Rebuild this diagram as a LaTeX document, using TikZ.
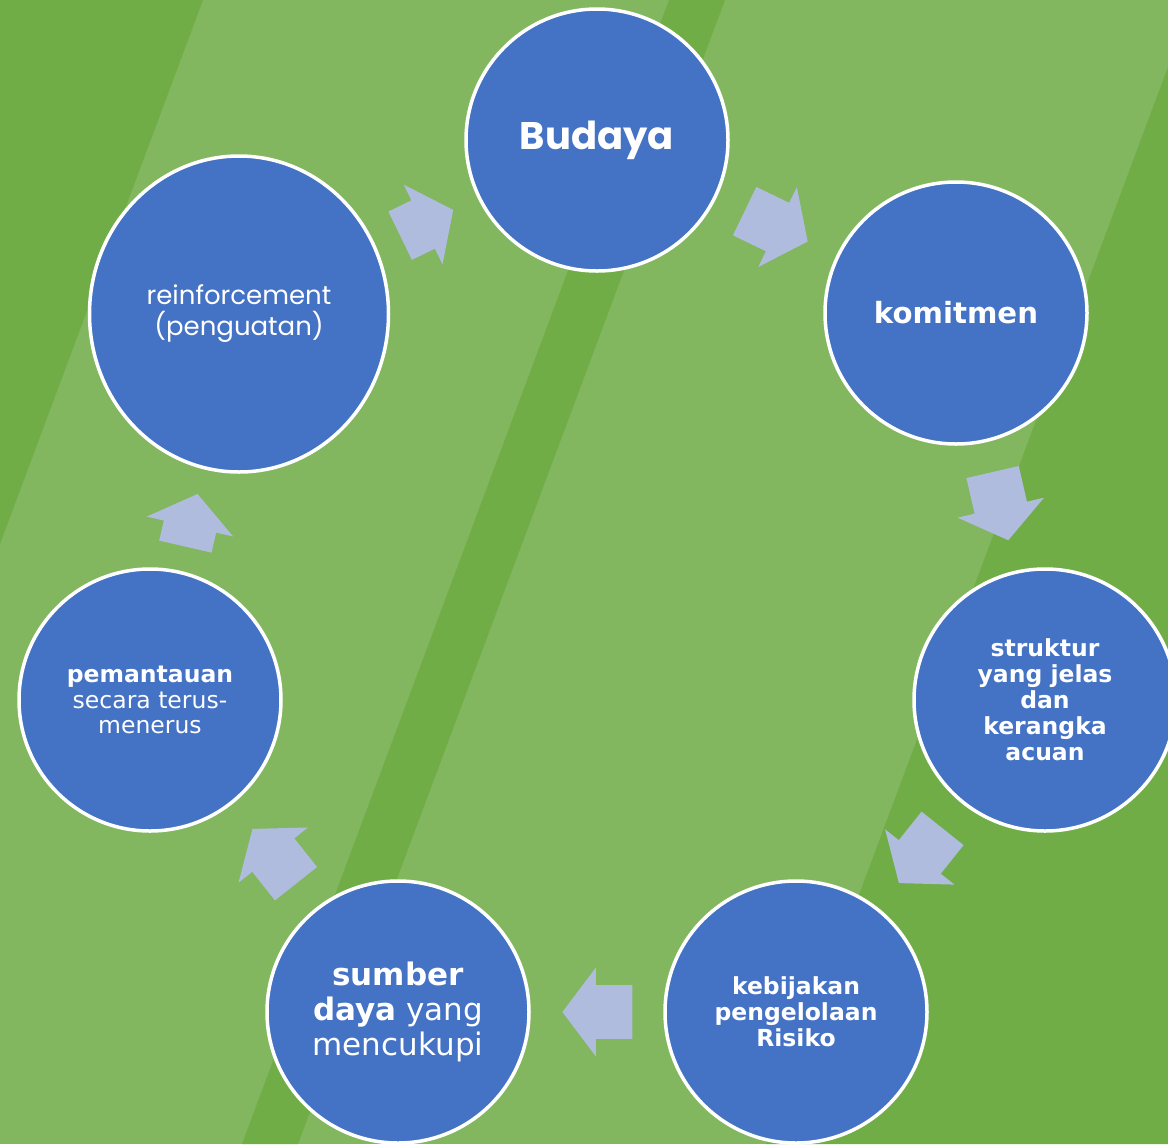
\documentclass[tikz,border=0pt]{standalone}
\usepackage{fontspec}
\setmainfont{DejaVu Sans}
\newfontfamily\gothic{Poppins}
\usetikzlibrary{shapes.geometric,shapes.arrows}

\definecolor{grasslight}{RGB}{130,182,95}
\definecolor{grassdark}{RGB}{112,173,71}
\definecolor{blobblue}{RGB}{68,114,196}
\definecolor{arrowlilac}{RGB}{175,188,222}

\tikzset{every picture/.style={line width=0.75pt}}
\tikzset{
	blob/.style={circle, draw=white, line width=3.5pt, fill=blobblue, text=white, minimum size=262, inner sep=0pt, align=center},
	cyclearrow/.style={single arrow, fill=arrowlilac, draw=none, inner xsep=0pt, inner ysep=26.5pt, minimum width=88, single arrow head extend=17.5, single arrow tip angle=106, minimum height=#1, sloped, allow upside down, xshift=-10.5pt},
	cyclearrow/.default=70
}

\begin{document}
\begin{tikzpicture}[x=1pt,y=-1pt]
			\useasboundingbox (0,0) rectangle (1168,1144);
			
			%Shape: Background
			\fill [grasslight] (0,0) rectangle (1168,1144);
			%Shape: Stripes
			\fill [grassdark] (0,0) -- (203,0) -- (0,544) -- cycle ;
			\fill [grassdark] (669,0) -- (725,0) -- (298,1144) -- (242,1144) -- cycle ;
			\fill [grassdark] (1168,67) -- (1168,1144) -- (766,1144) -- cycle ;
			
			%Shape: Circle
			\draw (597,140) node [blob, font=\gothic\bfseries\fontsize{38.5}{42}\selectfont] (budaya) {Budaya};
			%Shape: Circle
			\draw (956,313) node [blob, font=\bfseries\fontsize{29.2}{31}\selectfont] (komitmen) {komitmen};
			%Shape: Circle
			\draw (1045,700) node [blob, font=\bfseries\fontsize{23.5}{26}\selectfont] (struktur) {struktur\\yang jelas\\dan\\kerangka\\acuan};
			%Shape: Circle
			\draw (796,1012) node [blob, font=\bfseries\fontsize{23.5}{26}\selectfont] (kebijakan) {kebijakan\\pengelolaan\\Risiko};
			%Shape: Circle
			\draw (398,1012) node [blob, font=\fontsize{31}{35}\selectfont] (sumber) {\textbf{sumber}\\\textbf{daya} yang\\mencukupi};
			%Shape: Circle
			\draw (150,700) node [blob, font=\fontsize{23.5}{25.5}\selectfont] (pemantauan) {\textbf{pemantauan}\\secara terus-\\menerus};
			%Shape: Ellipse
			\draw (239,314) node [blob, ellipse, minimum width=299, minimum height=316, font=\gothic\fontsize{26}{31}\selectfont] (penguatan) {reinforcement\\(penguatan)};
			
			%Shape: Right Arrow
			\path (penguatan) -- node [cyclearrow=59] (a1) {} (budaya);
			\path (budaya) -- node [cyclearrow] (a2) {} (komitmen);
			\path (komitmen) -- node [cyclearrow] (a3) {} (struktur);
			\path (struktur) -- node [cyclearrow] (a4) {} (kebijakan);
			\path (kebijakan) -- node [cyclearrow] (a5) {} (sumber);
			\path (sumber) -- node [cyclearrow] (a6) {} (pemantauan);
			\path (pemantauan) -- node [cyclearrow=54] (a7) {} (penguatan);
			
\end{tikzpicture}
\end{document}
